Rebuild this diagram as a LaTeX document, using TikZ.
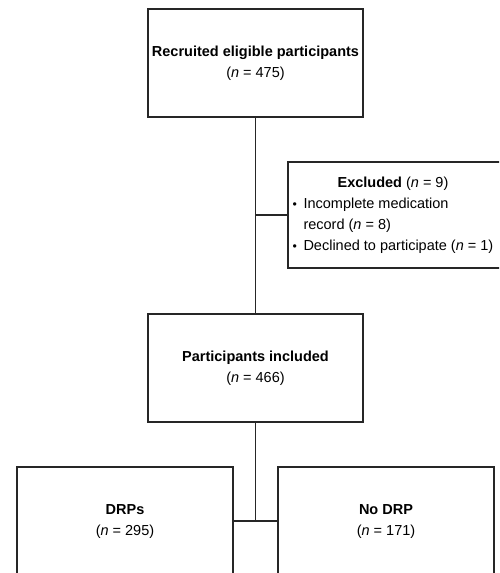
\documentclass[tikz,border=0pt]{standalone}
\usepackage{fontspec}
\setmainfont{Liberation Sans}
\newcommand{\mybul}{\scalebox{0.85}{•}\hspace{0.45em}}
\begin{document}
\begin{tikzpicture}[x=1pt,y=-1pt,
  boxstyle/.style={draw=black!85, line width=1.1pt, inner sep=0pt},
  txt/.style={font=\fontsize{14.5}{21}\selectfont, align=center, inner sep=0pt},
  conn/.style={draw=black!85, line width=1.1pt}]
\useasboundingbox (0,0) rectangle (499,573);
\clip (0,0) rectangle (499,573);
% top box
\node[boxstyle, minimum width=215pt, minimum height=108pt] (top) at (255.5,63) {};
\node[txt] (toptxt) at (255.5,63) {\textbf{Recruited eligible participants}\\(\textit{n} = 475)};
% excluded box
\node[boxstyle, minimum width=218pt, minimum height=106pt] (excl) at (397,215) {};
\node[txt, align=left] (excltxt) at (393,215) {\begin{tabular}{@{}l@{}}\multicolumn{1}{c}{\textbf{Excluded} (\textit{n} = 9)}\\
\mybul Incomplete medication\\
\phantom{\mybul}record (\textit{n} = 8)\\
\mybul Declined to participate (\textit{n} = 1)\end{tabular}};
% middle box
\node[boxstyle, minimum width=215pt, minimum height=108pt] (mid) at (255.5,368) {};
\node[txt] (midtxt) at (255.5,368) {\textbf{Participants included}\\(\textit{n} = 466)};
% bottom boxes
\node[boxstyle, minimum width=216pt, minimum height=150pt] (drp) at (125,542) {};
\node[txt] (drptxt) at (125,522) {\textbf{DRPs}\\(\textit{n} = 295)};
\node[boxstyle, minimum width=216pt, minimum height=150pt] (nodrp) at (386,542) {};
\node[txt] (nodrptxt) at (386,522) {\textbf{No DRP}\\(\textit{n} = 171)};
% connectors
\coordinate (j) at (255.5,521);
\draw[conn] (top.south) -- (mid.north);
\draw[conn] (top.south |- excl.west) -- (excl.west);
\draw[conn] (mid.south) -- (j);
\draw[conn] (drp.east |- j) -- (nodrp.west |- j);
\end{tikzpicture}
\end{document}
